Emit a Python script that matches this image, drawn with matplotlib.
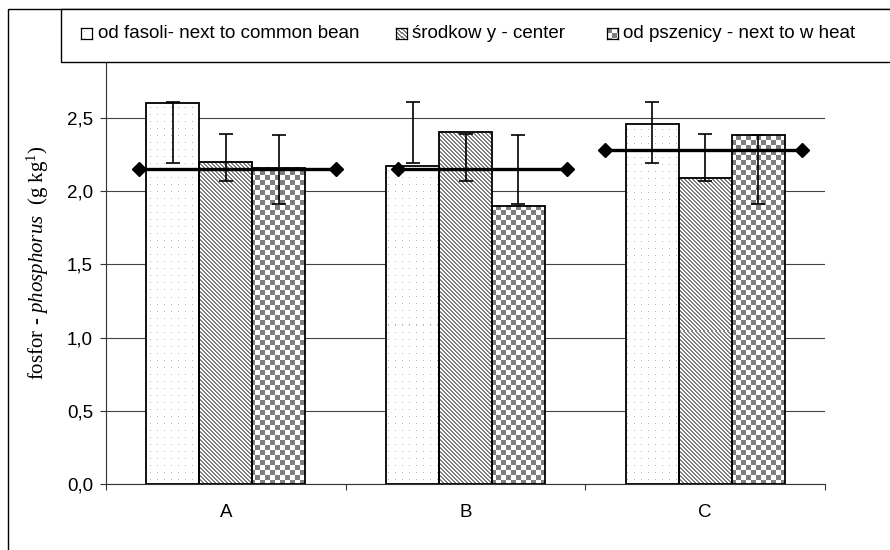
import numpy as np
import matplotlib
matplotlib.use('Agg')
import matplotlib.pyplot as plt
from matplotlib.patches import Rectangle

# ---------------- data ----------------
categories = ['A', 'B', 'C']
series_names = ['od fasoli- next to common bean', 'środkow y - center', 'od pszenicy - next to w heat']
bean = [2.60, 2.17, 2.46]
center = [2.20, 2.40, 2.09]
wheat = [2.16, 1.90, 2.38]
bean_err_low = [2.19, 2.19, 2.19]
bean_err_high = [2.61, 2.61, 2.61]
center_err_low = [2.07, 2.07, 2.07]
center_err_high = [2.39, 2.39, 2.39]
wheat_err_low = [1.91, 1.91, 1.91]
wheat_err_high = [2.38, 2.38, 2.38]
mean_levels = [2.15, 2.15, 2.28]
yticks = [0.0, 0.5, 1.0, 1.5, 2.0, 2.5]
ytick_labels = ['0,0', '0,5', '1,0', '1,5', '2,0', '2,5']

plt.rcParams['font.family'] = ['Liberation Sans', 'DejaVu Sans']
plt.rcParams['mathtext.fontset'] = 'custom'
plt.rcParams['mathtext.rm'] = 'Liberation Serif'
plt.rcParams['mathtext.it'] = 'Liberation Serif:italic'

W, H = 890, 550
fig = plt.figure(figsize=(W / 100, H / 100), dpi=100)
ax = fig.add_axes([106 / W, (H - 484.3) / H, 719 / W, 439.9 / H])
ax.set_zorder(0)


def pattern(kind, nx, ny, col0=0, row0=0):
    jj, ii = np.meshgrid(np.arange(nx) + col0, np.arange(ny) + row0)
    img = np.ones((ny, nx, 3))
    if kind == 'dots':
        m = (jj % 7 == 3) & (ii % 7 == 3)
        img[m] = 0.72
    elif kind == 'diag':
        m = ((jj - ii) % 4) < 2
        img[m] = 0.5
    elif kind == 'checker':
        m = ((jj // 5 + ii // 5) % 2) == 0
        img[m] = 0.5
    return img


def add_texture(ax, patch, kind):
    x0, y0 = patch.get_x(), patch.get_y()
    x1, y1 = x0 + patch.get_width(), y0 + patch.get_height()
    (px0, py0), (px1, py1) = ax.transData.transform([(x0, y0), (x1, y1)])
    nx = max(1, int(round(px1 - px0)))
    ny = max(1, int(round(py1 - py0)))
    img = pattern(kind, nx, ny, int(px0), int(H - py1))
    ax.imshow(img, extent=(x0, x1, y0, y1), origin='upper', interpolation='nearest',
              aspect='auto', zorder=2.5)


ax.set_xlim(-0.5, 2.5)
ax.set_ylim(0, 3.0)

x = np.arange(len(categories))
w = 53 / 240
offsets = [-w, 0, w]
kinds = ['dots', 'diag', 'checker']
series = [
    (bean, bean_err_low, bean_err_high),
    (center, center_err_low, center_err_high),
    (wheat, wheat_err_low, wheat_err_high),
]
for k, (vals, lo, hi) in enumerate(series):
    bars = ax.bar(x + offsets[k], vals, width=w, facecolor='none', edgecolor='black',
                  linewidth=1.3, zorder=3)
    for p in bars:
        add_texture(ax, p, kinds[k])
    lo = np.array(lo)
    hi = np.array(hi)
    ax.errorbar(x + offsets[k], (lo + hi) / 2, yerr=(hi - lo) / 2, fmt='none', ecolor='black',
                elinewidth=1.2, capsize=4.7, capthick=1.2, zorder=6)

# horizontal reference lines with diamond ends
line_start = [-0.3625, -0.283, -0.417]
line_end = [0.458, 0.425, 0.404]
for i, m in enumerate(mean_levels):
    ax.plot([i + line_start[i], i + line_end[i]], [m, m], color='black', lw=2.4,
            marker='D', ms=7.5, zorder=5, clip_on=False)

ax.set_xlim(-0.5, 2.5)
ax.set_ylim(0, 3.0)

for s in ['top', 'right']:
    ax.spines[s].set_visible(False)
for s in ['left', 'bottom']:
    ax.spines[s].set_color('#333333')
    ax.spines[s].set_linewidth(0.8)

ax.set_yticks(yticks, ytick_labels)
ax.yaxis.grid(True, color='#444444', lw=0.8)
ax.set_axisbelow(True)
ax.set_xticks([-0.5, 0.5, 1.5, 2.5])
ax.set_xticklabels([])
ax.set_xticks(x, minor=True)
ax.set_xticklabels(categories, minor=True)
ax.tick_params(axis='both', which='major', direction='out', length=4.3, width=0.8,
               color='#333333', labelsize=13.5, pad=5)
ax.tick_params(axis='x', which='minor', length=0, pad=14, labelsize=13.5)

# y label
fig.text(38 / W, 1 - 263 / H, 'fosfor - $\\mathit{phosphorus}$  (g kg$^{1}$)',
         rotation=90, ha='center', va='center', family='Liberation Serif', fontsize=15)

# outer chart frame
fig.add_artist(Rectangle((8 / W, -0.1), 1.2, 1 - 9 / H + 0.1, transform=fig.transFigure,
                         facecolor='none', edgecolor='black', lw=1.0, zorder=9))
# legend box
fig.add_artist(Rectangle((61 / W, 1 - 61.6 / H), (W + 20 - 61) / W, (61.6 - 9) / H,
                         transform=fig.transFigure, facecolor='white', edgecolor='black',
                         lw=1.0, zorder=10))
sq_x = [81, 396, 607]
tx_x = [98, 412, 623]
for k in range(3):
    sax = fig.add_axes([sq_x[k] / W, 1 - 39 / H, 11 / W, 11 / H])
    sax.set_zorder(11)
    sax.imshow(pattern(kinds[k], 11, 11), interpolation='nearest', aspect='auto')
    sax.set_xticks([])
    sax.set_yticks([])
    for sp in sax.spines.values():
        sp.set_linewidth(0.9)
        sp.set_color('black')
    fig.text(tx_x[k] / W, 1 - 34 / H, series_names[k], fontsize=13.5, ha='left', va='center',
             zorder=12)

fig.savefig('out.png', dpi=100)
